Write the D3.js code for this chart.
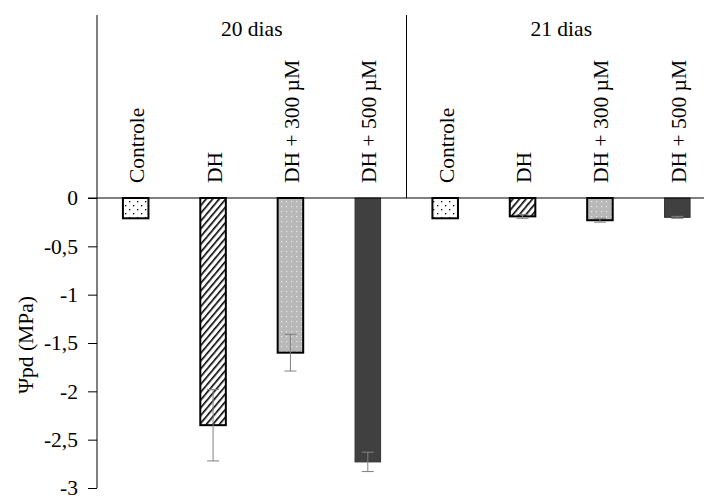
<html>
<head>
<meta charset="utf-8">
<script src="https://cdnjs.cloudflare.com/ajax/libs/d3/7.8.5/d3.min.js"></script>
<style>
  body { margin: 0; background: #fff; }
  svg text { font-family: "Liberation Serif", "Times New Roman", serif; fill: #000; }
</style>
</head>
<body>
<div id="chart"></div>
<script>
// data
var groups = ["20 dias", "21 dias"];
var treatments = ["Controle", "DH", "DH + 300 \u00b5M", "DH + 500 \u00b5M"];
var means20 = [-0.21, -2.35, -1.60, -2.73];
var errs20 = [0, 0.37, 0.19, 0.10];
var means21 = [-0.21, -0.19, -0.23, -0.20];
var errs21 = [0, 0.02, 0.02, 0.01];
var yTicks = [0, -0.5, -1, -1.5, -2, -2.5, -3];

var width = 704, height = 498;
var fs = "21.5px";

var rows = [];
groups.forEach(function (g, gi) {
  var m = gi == 0 ? means20 : means21;
  var e = gi == 0 ? errs20 : errs21;
  treatments.forEach(function (t, ti) {
    rows.push({ key: gi + "-" + ti, group: g, t: t, ti: ti, v: m[ti], e: e[ti] });
  });
});

var svg = d3.select("#chart").append("svg")
  .attr("width", width).attr("height", height);

// patterns
var defs = svg.append("defs");
var p0 = defs.append("pattern").attr("id", "pat0").attr("patternUnits", "userSpaceOnUse")
  .attr("width", 8).attr("height", 8);
p0.append("rect").attr("width", 8).attr("height", 8).attr("fill", "#fff");
p0.append("rect").attr("x", 1).attr("y", 1).attr("width", 1.3).attr("height", 1.3).attr("fill", "#000");
p0.append("rect").attr("x", 5).attr("y", 5).attr("width", 1.3).attr("height", 1.3).attr("fill", "#000");

var p1 = defs.append("pattern").attr("id", "pat1").attr("patternUnits", "userSpaceOnUse")
  .attr("width", 5).attr("height", 5).attr("patternTransform", "rotate(40)");
p1.append("rect").attr("width", 5).attr("height", 5).attr("fill", "#fff");
p1.append("rect").attr("width", 1.6).attr("height", 5).attr("fill", "#000");

var p2 = defs.append("pattern").attr("id", "pat2").attr("patternUnits", "userSpaceOnUse")
  .attr("width", 5).attr("height", 5);
p2.append("rect").attr("width", 5).attr("height", 5).attr("fill", "#b8b8b8");
p2.append("rect").attr("x", 1).attr("y", 1).attr("width", 1.2).attr("height", 1.2).attr("fill", "#e8e8e8");

var fills = ["url(#pat0)", "url(#pat1)", "url(#pat2)", "#404040"];
var strokes = ["#000", "#000", "#000", "#333"];
var strokeW = [2, 2, 2, 1];

// scales
var x = d3.scaleBand().domain(rows.map(function (d) { return d.key; }))
  .range([97, 716]).paddingInner(0.67).paddingOuter(0.335);
var step = x.step();
var y = d3.scaleLinear().domain([-3, 0]).range([488, 198]);

// bars
svg.selectAll("rect.bar").data(rows).enter().append("rect")
  .attr("class", "bar")
  .attr("x", function (d) { return x(d.key); })
  .attr("y", y(0))
  .attr("width", x.bandwidth())
  .attr("height", function (d) { return y(d.v) - y(0); })
  .attr("fill", function (d) { return fills[d.ti]; })
  .attr("stroke", function (d) { return strokes[d.ti]; })
  .attr("stroke-width", function (d) { return strokeW[d.ti]; });

// error bars
var eb = svg.selectAll("g.err").data(rows.filter(function (d) { return d.e > 0; })).enter()
  .append("g").attr("class", "err")
  .attr("stroke", "#808080").attr("stroke-width", 1);
eb.append("line")
  .attr("x1", function (d) { return x(d.key) + x.bandwidth() / 2; })
  .attr("x2", function (d) { return x(d.key) + x.bandwidth() / 2; })
  .attr("y1", function (d) { return y(d.v + d.e); })
  .attr("y2", function (d) { return y(d.v - d.e); });
eb.selectAll("line.cap").data(function (d) { return [d.v + d.e, d.v - d.e].map(function (v) { return { k: d.key, v: v }; }); })
  .enter().append("line").attr("class", "cap")
  .attr("x1", function (d) { return x(d.k) + x.bandwidth() / 2 - 6; })
  .attr("x2", function (d) { return x(d.k) + x.bandwidth() / 2 + 6; })
  .attr("y1", function (d) { return y(d.v); })
  .attr("y2", function (d) { return y(d.v); });

// y axis
var yAxis = d3.axisLeft(y).tickValues(yTicks).tickSize(9).tickPadding(10)
  .tickFormat(function (d) { return String(d).replace(".", ","); });
var ga = svg.append("g").attr("transform", "translate(97,0)").call(yAxis);
ga.attr("font-family", null).attr("font-size", null);
ga.select(".domain").remove();
ga.selectAll(".tick line").attr("stroke", "#000");
ga.selectAll(".tick text").style("font-size", fs);
svg.append("line").attr("x1", 97).attr("x2", 97).attr("y1", 15).attr("y2", y(-3)).attr("stroke", "#000");

// zero line
svg.append("line").attr("x1", 88).attr("x2", width).attr("y1", y(0)).attr("y2", y(0)).attr("stroke", "#000");

// group separator
svg.append("line").attr("x1", 97 + step * 4).attr("x2", 97 + step * 4)
  .attr("y1", 15).attr("y2", y(0)).attr("stroke", "#000");

// group labels
svg.selectAll("text.grp").data(groups).enter().append("text")
  .attr("class", "grp")
  .attr("x", function (d, i) { return 97 + step * 4 * i + step * 2; })
  .attr("y", 36)
  .attr("text-anchor", "middle")
  .style("font-size", fs)
  .text(function (d) { return d; });

// category labels
svg.selectAll("text.cat").data(rows).enter().append("text")
  .attr("class", "cat")
  .attr("transform", function (d) { return "translate(" + (x(d.key) + x.bandwidth() / 2 + 1) + ",183) rotate(-90)"; })
  .attr("dy", "0.35em")
  .attr("text-anchor", "start")
  .style("font-size", fs)
  .text(function (d) { return d.t; });

// y label
svg.append("text")
  .attr("transform", "translate(25,345) rotate(-90)")
  .attr("dy", "0.35em")
  .attr("text-anchor", "middle")
  .style("font-size", fs)
  .text("\u03a8pd (MPa)");
</script>
</body>
</html>
